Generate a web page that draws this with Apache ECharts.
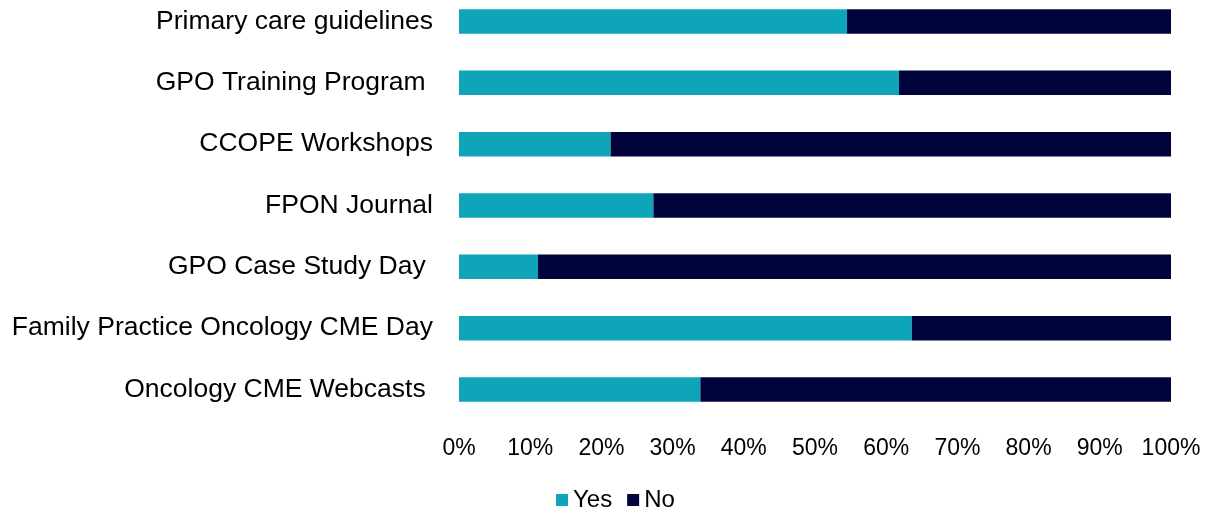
<!DOCTYPE html>
<html lang="en">
<head>
  <meta charset="UTF-8">
  <title>Program awareness</title>
  <style>
    *{
      margin: 0;
      padding: 0;
    }
    body{
      background: #ffffff;
    }
    #chart{
      width: 1207px;
      height: 511px;
    }
  </style>
</head>
<body>
<div id="chart"></div>
<script src="https://cdn.jsdelivr.net/npm/echarts@6/dist/echarts.min.js"></script>
<script>
  // 类目（从上到下）
  var categories = [
    'Primary care guidelines',
    'GPO Training Program ',
    'CCOPE Workshops',
    'FPON Journal',
    'GPO Case Study Day ',
    'Family Practice Oncology CME Day',
    'Oncology CME Webcasts '
  ];
  var yesValues = [54.5, 61.8, 21.3, 27.3, 11.1, 63.6, 33.9];
  var noValues = [45.5, 38.2, 78.7, 72.7, 88.9, 36.4, 66.1];
  var seriesNames = ['Yes', 'No'];

  var font = '"Liberation Sans", Arial, Helvetica, sans-serif';
  var myChart = echarts.init(document.getElementById('chart'));

  // 类目轴不留边距：首尾类目落在网格上下边上，条形不裁剪
  var option = {
    animation: false,
    grid: {
      left: 459,
      right: 36,
      top: 21.5,
      bottom: 121.5,
      containLabel: false
    },
    legend: {
      data: seriesNames,
      left: 556,
      top: 488,
      padding: 0,
      itemWidth: 12,
      itemHeight: 12,
      itemGap: 15,
      icon: 'rect',
      textStyle: {
        fontFamily: font,
        fontSize: 24,
        color: '#000000'
      }
    },
    xAxis: {
      type: 'value',
      min: 0,
      max: 100,
      interval: 10,
      axisLine: { show: false },
      axisTick: { show: false },
      splitLine: { show: false },
      axisLabel: {
        formatter: '{value}%',
        margin: 48,
        fontFamily: font,
        fontSize: 23,
        color: '#000000'
      }
    },
    yAxis: {
      type: 'category',
      data: categories,
      inverse: true,
      boundaryGap: false,
      axisLine: { show: false },
      axisTick: { show: false },
      splitLine: { show: false },
      axisLabel: {
        margin: 26,
        fontFamily: font,
        fontSize: 26.5,
        color: '#000000'
      }
    },
    series: [
      {
        name: seriesNames[0],
        type: 'bar',
        stack: 'total',
        barWidth: 24.5,
        clip: false,
        itemStyle: { color: '#0DA5B7' },
        data: yesValues
      },
      {
        name: seriesNames[1],
        type: 'bar',
        stack: 'total',
        barWidth: 24.5,
        clip: false,
        itemStyle: { color: '#00043A' },
        data: noValues
      }
    ]
  };

  myChart.setOption(option);
</script>
</body>
</html>
